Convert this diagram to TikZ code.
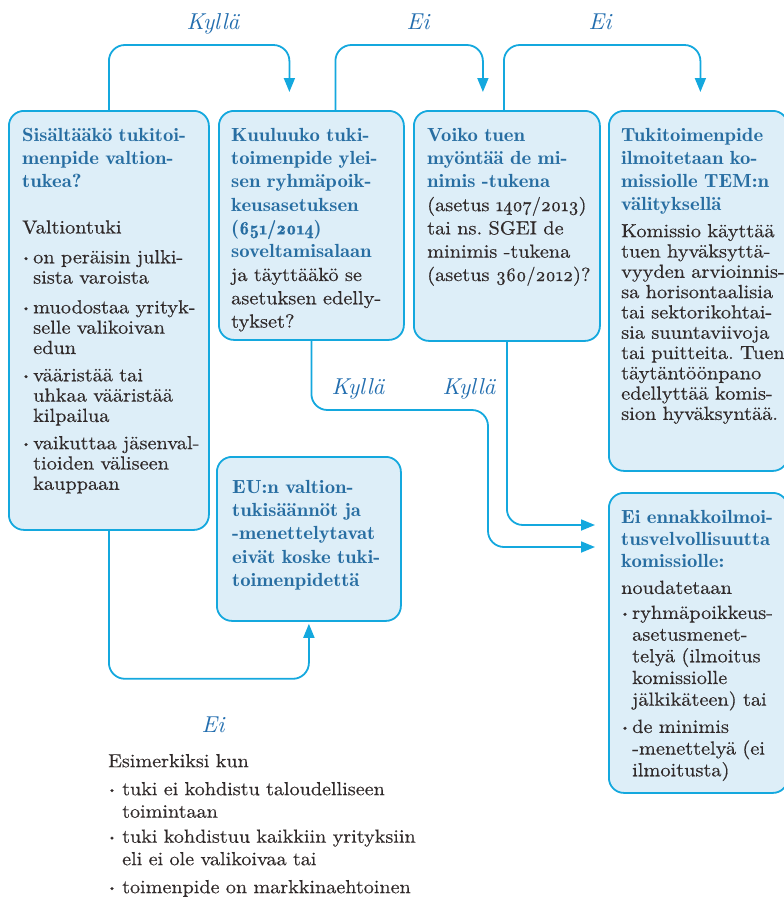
\documentclass[tikz,border=0pt]{standalone}
\usepackage{fontspec}
\setmainfont{lmroman10-regular}[Extension=.otf,
  UprightFeatures={FakeStretch=1.07,FakeBold=0.4},
  BoldFont=lmromandemi10-regular,
  BoldFeatures={FakeStretch=1.09},
  ItalicFont=lmroman10-italic,
  Numbers=OldStyle]
\newfontfamily\alafont{lmroman10-regular}[Extension=.otf,
  FakeStretch=1.06,FakeBold=0.4,Numbers=OldStyle]
\newfontfamily\lukufont{lmroman10-regular}[Extension=.otf,
  FakeStretch=0.95,FakeBold=0.4,Numbers=OldStyle,
  BoldFont=lmromandemi10-regular]
\newfontfamily\vastfont{lmroman10-italic}[Extension=.otf]
\usetikzlibrary{arrows.meta,positioning}

\definecolor{viiva}{RGB}{20,168,222}
\definecolor{tausta}{RGB}{221,238,248}
\definecolor{otsikko}{RGB}{40,110,162}
\definecolor{perus}{RGB}{48,42,42}
\definecolor{vastv}{RGB}{35,110,175}

\newcommand\bul[1][11pt]{\makebox[#1][l]{\hspace*{-0.5pt}\raisebox{2.2pt}{\scalebox{0.55}{\textbullet}}}}
\newcommand\ots[1]{{\bfseries\color{otsikko}#1}}
\newcommand\luku[1]{{\lukufont#1}}

\begin{document}
\frenchspacing
\begin{tikzpicture}[x=1pt,y=-1pt,
    laatikko/.style={draw=viiva, line width=1.8pt, fill=tausta, rounded corners=15pt,
      anchor=north west, inner sep=0pt},
    teksti/.style={anchor=north west, inner sep=0pt, align=left, text=perus,
      font=\fontsize{19}{20.3}\selectfont, execute at begin node={\rule{0pt}{14pt}}},
    nuoli/.style={draw=viiva, line width=1.8pt, rounded corners=16pt,
      -{Triangle[length=14pt,width=11pt]}},
    vastaus/.style={anchor=base, text=vastv, font=\vastfont\fontsize{23}{23}\selectfont}]
  \useasboundingbox (0,0) rectangle (784,900);

  % Laatikot
  \node[laatikko, minimum width=200pt, minimum height=419pt] (q1) at (8,110) {};
  \node[laatikko, minimum width=185pt, minimum height=229pt] (q2) at (218,110) {};
  \node[laatikko, minimum width=186pt, minimum height=230pt] (q3) at (413,110) {};
  \node[laatikko, minimum width=179pt, minimum height=360pt] (q4) at (608,110) {};
  \node[laatikko, minimum width=184pt, minimum height=164pt] (q5) at (216,456) {};
  \node[laatikko, minimum width=179pt, minimum height=300pt] (q6) at (608,492) {};

  % Nuolet ylhaalla
  \draw[nuoli, shorten >=18pt] (q1.north) -- ++(0,-65) -| ([xshift=-22pt]q2.north);
  \draw[nuoli, shorten >=18pt] ([xshift=24pt]q2.north) -- ++(0,-65) -| ([xshift=-24pt]q3.north);
  \draw[nuoli, shorten >=18pt] ([xshift=-3pt]q3.north) -- ++(0,-65) -| ([xshift=2pt]q4.north);

  % Nuolet alhaalla
  \coordinate (mutka) at (488,410);
  \draw[nuoli, shorten >=13pt] (q2.south) |- (mutka) |- (q6.west |- 0,547);
  \draw[nuoli, shorten >=13pt] (q3.south) |- (q6.west |- 0,525);
  \draw[nuoli, shorten >=2pt] (q1.south) -- ++(0,148) -| (q5.south);

  % Vastaukset
  \node[vastaus] (k1) at (213,29) {Kyllä};
  \node[vastaus] (e1) at (418,29) {Ei};
  \node[vastaus] (e2) at (600,29) {Ei};
  \node[vastaus] (k2) at (358,394) {Kyllä};
  \node[vastaus] (k3) at (469,394) {Kyllä};
  \node[vastaus] (e3) at (213,732) {Ei};

  % Tekstit
  \node[teksti, text width=200pt] (t1) at (22,127) {%
    \ots{Sisältääkö tukitoi-\\[2.7pt]menpide valtion-\\[2.7pt]tukea?}\\[26pt]
    Valtiontuki\\[9.5pt]
    \bul on peräisin julki-\\\hspace*{11pt}sista varoista\\[9.5pt]
    \bul muodostaa yrityk-\\\hspace*{11pt}selle valikoivan\\\hspace*{11pt}edun\\[7pt]
    \bul vääristää tai\\\hspace*{11pt}uhkaa vääristää\\\hspace*{11pt}kilpailua\\[7pt]
    \bul vaikuttaa jäsenval-\\\hspace*{11pt}tioiden väliseen\\\hspace*{11pt}kauppaan};
  \node[teksti, text width=200pt, font=\fontsize{19}{23.3}\selectfont] (t2) at (231,127) {%
    \ots{Kuuluuko tuki-\\toimenpide ylei-\\sen ryhmäpoik-\\keusasetuksen\\(\luku{651/2014})\\soveltamisalaan}\\
    ja täyttääkö se\\asetuksen edelly-\\tykset?};
  \node[teksti, text width=200pt, font=\fontsize{19}{23.3}\selectfont] (t3) at (427,127) {%
    \ots{Voiko tuen\\myöntää de mi-\\nimis -tukena}\\
    (asetus \luku{1407/2013})\\tai ns. SGEI de\\minimis -tukena\\(asetus \luku{360/2012})?};
  \node[teksti, text width=200pt] (t4) at (621,127) {%
    \ots{Tukitoimenpide\\[2.7pt]ilmoitetaan ko-\\[2.7pt]missiolle TEM:n\\[2.7pt]välityksellä}\\[6.7pt]
    Komissio käyttää\\tuen hyväksyttä-\\vyyden arvioinnis-\\sa horisontaalisia\\
    tai sektorikohtai-\\sia suuntaviivoja\\tai puitteita. Tuen\\täytäntöönpano\\
    edellyttää komis-\\sion hyväksyntää.};
  \node[teksti, text width=200pt, font=\fontsize{19}{23.3}\selectfont] (t5) at (232,479) {%
    \ots{EU:n valtion-\\tukisäännöt ja\\-menettelytavat\\eivät koske tuki-\\toimenpidettä}};
  \node[teksti, text width=200pt, font=\fontsize{19}{21.7}\selectfont] (t6) at (621,509) {%
    \ots{Ei ennakkoilmoi-\\[0.3pt]tusvelvollisuutta\\[0.3pt]komissiolle:}\\[5pt]
    noudatetaan\\[3.3pt]
    \bul ryhmäpoikkeus-\\\hspace*{11pt}asetusmenet-\\\hspace*{11pt}telyä (ilmoitus\\
    \hspace*{11pt}komissiolle\\\hspace*{11pt}jälkikäteen) tai\\[5.5pt]
    \bul de minimis\\\hspace*{11pt}-menettelyä (ei\\\hspace*{11pt}ilmoitusta)};
  \node[teksti, text width=340pt, font=\alafont\fontsize{19}{22.5}\selectfont] (t7) at (108,753) {%
    Esimerkiksi kun\\[5.5pt]
    \bul[14pt]tuki ei kohdistu taloudelliseen\\\hspace*{14pt}toimintaan\\[2.5pt]
    \bul[14pt]tuki kohdistuu kaikkiin yrityksiin\\\hspace*{14pt}eli ei ole valikoivaa tai\\[5.5pt]
    \bul[14pt]toimenpide on markkinaehtoinen};
\end{tikzpicture}
\end{document}
